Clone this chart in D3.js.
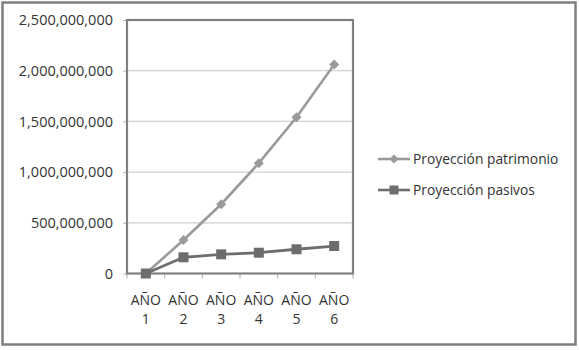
<!DOCTYPE html>
<html><head><meta charset="utf-8">
<script src="https://cdn.jsdelivr.net/npm/d3@7"></script>
<style>body{margin:0;background:#fff}svg{display:block}text{font-family:"Open Sans",sans-serif;fill:#333}</style>
</head><body>
<svg id="c" width="579" height="350"></svg>
<script>
const categories = ["AÑO 1","AÑO 2","AÑO 3","AÑO 4","AÑO 5","AÑO 6"];
const patrimonio = [0, 330000000, 683000000, 1088000000, 1541000000, 2060000000];
const pasivos = [0, 160000000, 189000000, 205000000, 239000000, 271000000];
const yTicks = [0, 500000000, 1000000000, 1500000000, 2000000000, 2500000000];
const seriesNames = ["Proyección patrimonio", "Proyección pasivos"];

const svg = d3.select("#c");
svg.append("rect").attr("x",2.5).attr("y",2.5).attr("width",573).attr("height",342)
  .attr("fill","#fff").attr("stroke","#7f7f7f").attr("stroke-width",2.5);

const L=127, R=353, T=20, B=273.5;
const x = d3.scaleBand().domain(categories).range([L,R]);
const y = d3.scaleLinear().domain([0,2500000000]).range([B,T]);
const fmt = d3.format(",");

svg.append("g").selectAll("line").data(yTicks.slice(1)).join("line")
  .attr("x1",L).attr("x2",R).attr("y1",d=>y(d)).attr("y2",d=>y(d))
  .attr("stroke","#d0d0d0").attr("stroke-width",1.3);

const ya = svg.append("g").attr("transform",`translate(${L},0)`)
  .call(d3.axisLeft(y).tickValues(yTicks).tickFormat(fmt).tickSize(4).tickPadding(10));
ya.select(".domain").remove();
ya.selectAll(".tick line").attr("stroke","#bbb");
ya.selectAll(".tick text").attr("font-size",14.5).attr("fill","#333").attr("font-family","Open Sans");

const bounds = categories.map(c=>x(c)).concat([R]);
svg.append("g").selectAll("line").data(bounds).join("line")
  .attr("x1",d=>d).attr("x2",d=>d).attr("y1",B).attr("y2",B+5)
  .attr("stroke","#bbb").attr("stroke-width",1.2);
const xl = svg.append("g").selectAll("text").data(categories).join("text")
  .attr("text-anchor","middle").attr("font-size",14)
  .attr("x",d=>x(d)+x.bandwidth()/2);
xl.append("tspan").attr("x",d=>x(d)+x.bandwidth()/2).attr("y",305).text(d=>d.split(" ")[0]);
xl.append("tspan").attr("x",d=>x(d)+x.bandwidth()/2).attr("y",324).text(d=>d.split(" ")[1]);

svg.append("rect").attr("x",L).attr("y",T).attr("width",R-L).attr("height",B-T)
  .attr("fill","none").attr("stroke","#808080").attr("stroke-width",2.2);

const cx = i => x(categories[i]) + x.bandwidth()/2;
const line = d3.line().x((d,i)=>cx(i)).y(d=>y(d));

const colP = "#9a9a9a", colQ = "#6d6d6d";
svg.append("path").datum(patrimonio).attr("d",line).attr("fill","none").attr("stroke",colP).attr("stroke-width",2.6);
svg.append("path").datum(pasivos).attr("d",line).attr("fill","none").attr("stroke",colQ).attr("stroke-width",2.8);

const diamond = (cxv,cyv,s)=>`M${cxv},${cyv-s}L${cxv+s},${cyv}L${cxv},${cyv+s}L${cxv-s},${cyv}Z`;
svg.append("g").selectAll("path").data(patrimonio).join("path")
  .attr("d",(d,i)=>diamond(cx(i),y(d),5)).attr("fill",colP);
svg.append("g").selectAll("rect").data(pasivos).join("rect")
  .attr("x",(d,i)=>cx(i)-5).attr("y",d=>y(d)-5).attr("width",10).attr("height",10).attr("fill",colQ);

const leg = [{n:seriesNames[0],c:colP,m:"d",y:159},{n:seriesNames[1],c:colQ,m:"s",y:190}];
leg.forEach(l=>{
  svg.append("line").attr("x1",378).attr("x2",410).attr("y1",l.y).attr("y2",l.y).attr("stroke",l.c).attr("stroke-width",2.6);
  if(l.m==="d") svg.append("path").attr("d",diamond(394,l.y,4.5)).attr("fill",l.c);
  else svg.append("rect").attr("x",389.5).attr("y",l.y-4.5).attr("width",9).attr("height",9).attr("fill",l.c);
  svg.append("text").attr("x",413).attr("y",l.y+4.5).attr("font-size",13.8).text(l.n);
});
</script>
</body></html>
